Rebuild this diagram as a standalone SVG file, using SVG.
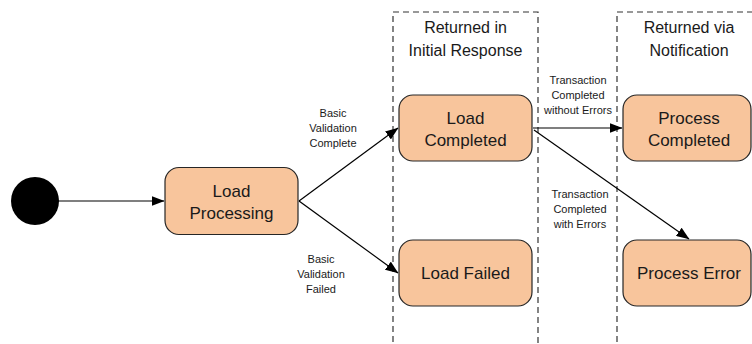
<svg xmlns="http://www.w3.org/2000/svg" width="752" height="344" viewBox="0 0 752 344">
<defs>
<style>
.node{fill:#F8C59C;stroke:#262626;stroke-width:1.2}
.lane{fill:none;stroke:#333;stroke-width:1.2;stroke-dasharray:6,4}
.conn{fill:none;stroke:#000;stroke-width:1.2}
.t{font-family:"Liberation Sans",Arial,sans-serif;font-size:17px;fill:#1a1a1a;text-anchor:middle}
.lt{font-family:"Liberation Sans",Arial,sans-serif;font-size:16px;fill:#1a1a1a;text-anchor:middle}
.s{font-family:"Liberation Sans",Arial,sans-serif;font-size:11px;fill:#1a1a1a;text-anchor:middle}
</style>
<marker id="arr" markerWidth="13" markerHeight="10" refX="12.5" refY="5" orient="auto" markerUnits="userSpaceOnUse">
<path d="M0,0 L13,5 L0,10 Z" fill="#000"/>
</marker>
</defs>
<rect width="752" height="344" fill="#fff"/>
<g id="lane-initial">
<rect class="lane" x="393" y="12" width="145" height="345"/>
<text class="lt" x="465.5" y="33">Returned in</text>
<text class="lt" x="465.5" y="56">Initial Response</text>
</g>
<g id="lane-notification">
<rect class="lane" x="617" y="12" width="150" height="345"/>
<text class="lt" x="689" y="33">Returned via</text>
<text class="lt" x="689" y="56">Notification</text>
</g>
<g id="connectors">
<line class="conn" x1="58" y1="201" x2="164" y2="201" marker-end="url(#arr)"/>
<line class="conn" x1="299" y1="201" x2="398" y2="128" marker-end="url(#arr)"/>
<line class="conn" x1="299" y1="201" x2="398" y2="273" marker-end="url(#arr)"/>
<line class="conn" x1="533" y1="128" x2="622" y2="128" marker-end="url(#arr)"/>
<line class="conn" x1="534" y1="130" x2="689" y2="239" marker-end="url(#arr)"/>
<text class="s" x="333" y="117">Basic</text>
<text class="s" x="333" y="132">Validation</text>
<text class="s" x="333" y="147">Complete</text>
<text class="s" x="321" y="263">Basic</text>
<text class="s" x="321" y="278">Validation</text>
<text class="s" x="321" y="293">Failed</text>
<text class="s" x="578" y="84">Transaction</text>
<text class="s" x="578" y="99">Completed</text>
<text class="s" x="578" y="114">without Errors</text>
<text class="s" x="580" y="198">Transaction</text>
<text class="s" x="580" y="213">Completed</text>
<text class="s" x="580" y="228">with Errors</text>
</g>
<g id="start">
<circle cx="35" cy="201" r="24" fill="#000"/>
</g>
<g id="load-processing">
<rect class="node" x="165" y="167.5" width="133" height="67" rx="14"/>
<text class="t" x="231.5" y="196.5">Load</text>
<text class="t" x="231.5" y="218.5">Processing</text>
</g>
<g id="load-completed">
<rect class="node" x="399" y="95" width="133" height="66" rx="14"/>
<text class="t" x="465.5" y="123.5">Load</text>
<text class="t" x="465.5" y="145.5">Completed</text>
</g>
<g id="load-failed">
<rect class="node" x="399" y="240" width="133" height="66" rx="14"/>
<text class="t" x="465.5" y="279">Load Failed</text>
</g>
<g id="process-completed">
<rect class="node" x="623" y="95" width="128" height="66" rx="14"/>
<text class="t" x="689" y="123.5">Process</text>
<text class="t" x="689" y="145.5">Completed</text>
</g>
<g id="process-error">
<rect class="node" x="623" y="240" width="128" height="66" rx="14"/>
<text class="t" x="689" y="279">Process Error</text>
</g>
</svg>
